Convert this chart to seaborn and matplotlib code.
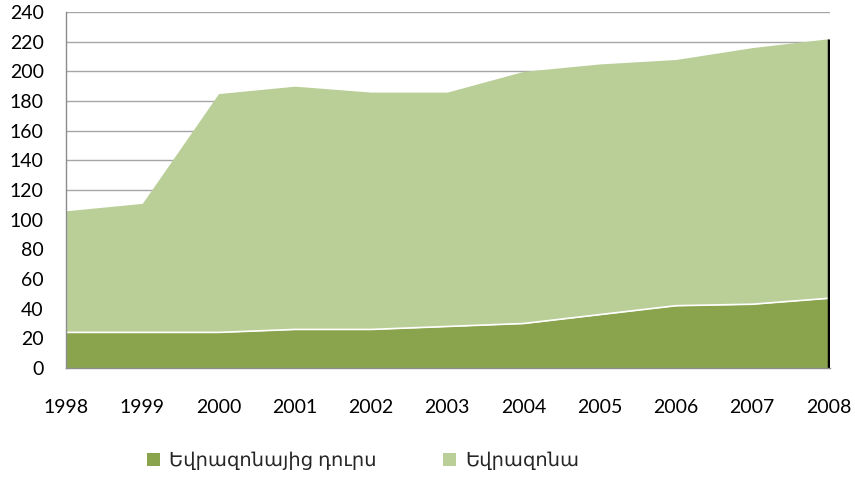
import matplotlib
matplotlib.use("Agg")
import matplotlib.pyplot as plt
import seaborn as sns
import numpy as np
import pandas as pd
from matplotlib.patches import Patch

years = [1998, 1999, 2000, 2001, 2002, 2003, 2004, 2005, 2006, 2007, 2008]
outside_ez = [24, 24, 24, 26, 26, 28, 30, 36, 42, 43, 47]
eurozone = [82, 87, 161, 164, 160, 158, 170, 169, 166, 173, 175]
labels = ["Եվրազոնայից դուրս", "Եվրազոնա"]
yticks = list(range(0, 241, 20))

sns.set_style("white")
plt.rcParams['font.family'] = ['Lato', 'DejaVu Sans']

df = pd.DataFrame({"year": years, labels[0]: outside_ez, labels[1]: eurozone})
df["total"] = df[labels[0]] + df[labels[1]]

fig = plt.figure(figsize=(8.55, 4.78), dpi=100)
ax = fig.add_axes([0.0772, 0.2301, 0.8936, 0.7448])

c_dark = "#8aa44e"
c_light = "#bacf98"

for y in yticks[1:]:
    ax.axhline(y, color="#a6a6a6", lw=1.0, zorder=0)

ax.fill_between(df["year"], 0, df[labels[0]], color=c_dark, lw=0, zorder=2)
ax.fill_between(df["year"], df[labels[0]], df["total"], color=c_light, lw=0, zorder=2)
sns.lineplot(x=df["year"], y=df[labels[0]], color="white", lw=1.2, ax=ax, zorder=3)
ax.vlines(df["year"].iloc[-1], 0, df["total"].iloc[-1], color="black", lw=2.5, zorder=4)

ax.set_xlim(1998, 2008.02)
ax.set_ylim(0, 240)
ax.set_yticks(yticks)
ax.set_xticks(years)
ax.set_xticklabels([str(y) for y in years])
ax.set_xlabel("")
ax.set_ylabel("")
ax.tick_params(axis="both", labelsize=14, length=0, colors="black")
ax.tick_params(axis="x", pad=22)
ax.tick_params(axis="y", pad=16)
for s in ["top", "right"]:
    ax.spines[s].set_visible(False)
for s in ["left", "bottom"]:
    ax.spines[s].set_color("#8c8c8c")
    ax.spines[s].set_linewidth(1.0)
    ax.spines[s].set_zorder(5)

handles = [Patch(facecolor=c_dark, edgecolor="none"), Patch(facecolor=c_light, edgecolor="none")]
fig.legend(handles, labels, loc="center", bbox_to_anchor=(0.425, 0.035), ncol=2,
           frameon=False, fontsize=14, handlelength=0.65, handleheight=0.65,
           handletextpad=0.5, columnspacing=3.4)

fig.savefig("out.png", dpi=100)
